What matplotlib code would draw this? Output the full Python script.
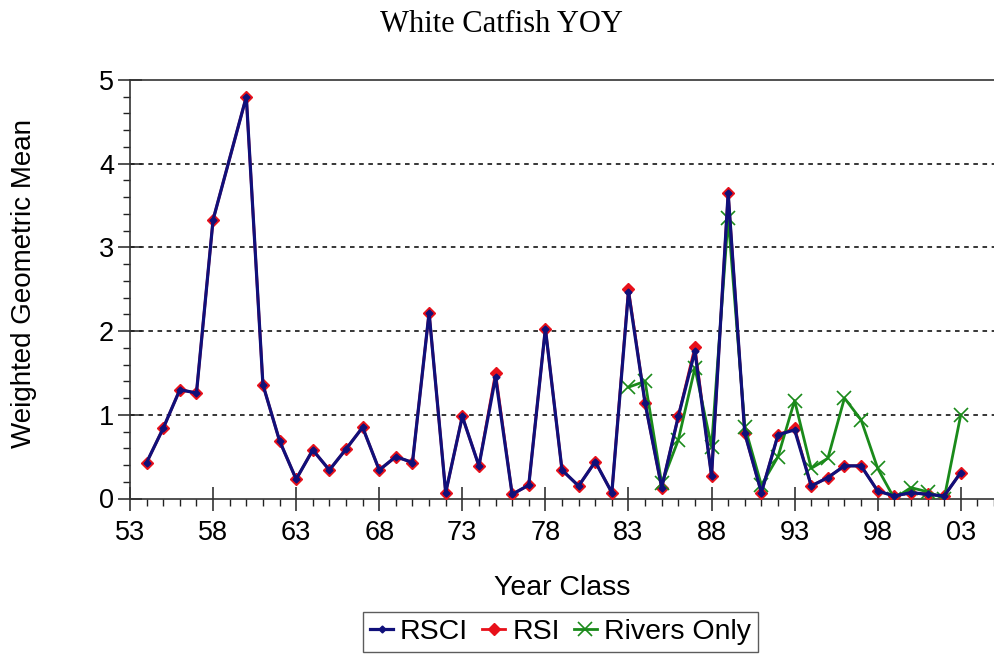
import matplotlib.pyplot as plt
from matplotlib.ticker import MultipleLocator, FixedLocator

# year classes (1959 has no sample)
years = [1954, 1955, 1956, 1957, 1958, 1960, 1961, 1962, 1963, 1964,
         1965, 1966, 1967, 1968, 1969, 1970, 1971, 1972, 1973, 1974,
         1975, 1976, 1977, 1978, 1979, 1980, 1981, 1982, 1983, 1984,
         1985, 1986, 1987, 1988, 1989, 1990, 1991, 1992, 1993, 1994,
         1995, 1996, 1997, 1998, 1999, 2000, 2001, 2002, 2003]

rsci = [0.43, 0.84, 1.30, 1.26, 3.33, 4.80, 1.36, 0.69, 0.23, 0.58,
        0.34, 0.59, 0.85, 0.34, 0.50, 0.43, 2.22, 0.07, 0.98, 0.39,
        1.45, 0.05, 0.16, 2.03, 0.34, 0.15, 0.44, 0.07, 2.47, 1.14,
        0.13, 0.98, 1.76, 0.27, 3.65, 0.78, 0.07, 0.76, 0.82, 0.15,
        0.25, 0.39, 0.39, 0.09, 0.03, 0.07, 0.05, 0.03, 0.31]

rsi = [0.43, 0.84, 1.30, 1.26, 3.33, 4.80, 1.36, 0.69, 0.23, 0.58,
       0.34, 0.59, 0.85, 0.34, 0.50, 0.43, 2.22, 0.07, 0.98, 0.39,
       1.50, 0.05, 0.16, 2.03, 0.34, 0.15, 0.44, 0.07, 2.50, 1.14,
       0.13, 0.98, 1.81, 0.27, 3.65, 0.78, 0.07, 0.76, 0.84, 0.15,
       0.25, 0.39, 0.39, 0.09, 0.03, 0.07, 0.05, 0.03, 0.31]

river_years = list(range(1983, 2004))
rivers_only = [1.33, 1.40, 0.18, 0.70, 1.56, 0.62, 3.35, 0.86, 0.16, 0.50,
               1.17, 0.36, 0.48, 1.20, 0.94, 0.36, 0.00, 0.13, 0.08, 0.00,
               1.00]

tick_years = list(range(1953, 2004, 5))

plt.rcParams['font.family'] = ['Liberation Sans', 'DejaVu Sans']

fig = plt.figure(figsize=(9.94, 6.54), dpi=100)
W, H = 994, 654
ax = fig.add_axes([130 / W, (H - 498.5) / H, (W - 130) / W, (498.5 - 80) / H])

ax.plot(years, rsi, color='#e8101a', lw=2.0, marker='D', ms=6.5,
        mec='#e8101a', mfc='#e8101a', label='RSI', zorder=3)
ax.plot(river_years, rivers_only, color='#1a8a1a', lw=2.0, marker='x', ms=10,
        mew=1.2, label='Rivers Only', zorder=4)
ax.plot(years, rsci, color='#10107a', lw=2.3, marker='D', ms=3.5,
        label='RSCI', zorder=5)

for v in [1, 2, 3, 4]:
    ax.axhline(v, color='black', ls=(0, (3, 3)), lw=1.1, zorder=1)

ax.set_xlim(1953, 2005)
ax.set_ylim(0, 5)
ax.xaxis.set_major_locator(FixedLocator(tick_years))
ax.xaxis.set_minor_locator(MultipleLocator(1))
ax.set_xticklabels([f'{y % 100:02d}' for y in tick_years])
ax.yaxis.set_major_locator(MultipleLocator(1))
ax.yaxis.set_minor_locator(MultipleLocator(0.2))

ax.tick_params(axis='both', which='major', direction='inout', length=17,
               width=1.1, labelsize=19.5, color='#222222')
ax.tick_params(axis='both', which='minor', direction='out', length=5,
               width=1.0, color='#222222')
ax.tick_params(axis='x', which='major', pad=7)
ax.tick_params(axis='y', which='major', pad=3)

for s in ['left', 'bottom', 'top']:
    ax.spines[s].set_color('#333333')
    ax.spines[s].set_linewidth(1.2)
ax.spines['right'].set_visible(False)

fig.text(501 / W, 1 - 25 / H, 'White Catfish YOY', ha='center', va='center',
         fontsize=22, family='Liberation Serif')
fig.text(24 / W, 1 - 283 / H, 'Weighted Geometric Mean', ha='center',
         va='center', rotation=90, fontsize=20)
fig.text(562 / W, 1 - 588 / H, 'Year Class', ha='center', va='center',
         fontsize=20.5)

handles, labels = ax.get_legend_handles_labels()
order = [2, 0, 1]
leg = fig.legend([handles[i] for i in order], [labels[i] for i in order],
                 loc='upper left', bbox_to_anchor=(363 / W, (H - 612) / H),
                 ncol=3, fontsize=20.5, frameon=True, fancybox=False,
                 handlelength=0.8, handletextpad=0.25, columnspacing=0.5,
                 borderpad=0.25, borderaxespad=0)
leg.get_frame().set_edgecolor('#333333')
leg.get_frame().set_linewidth(1.0)

fig.savefig('out.png', dpi=100)
